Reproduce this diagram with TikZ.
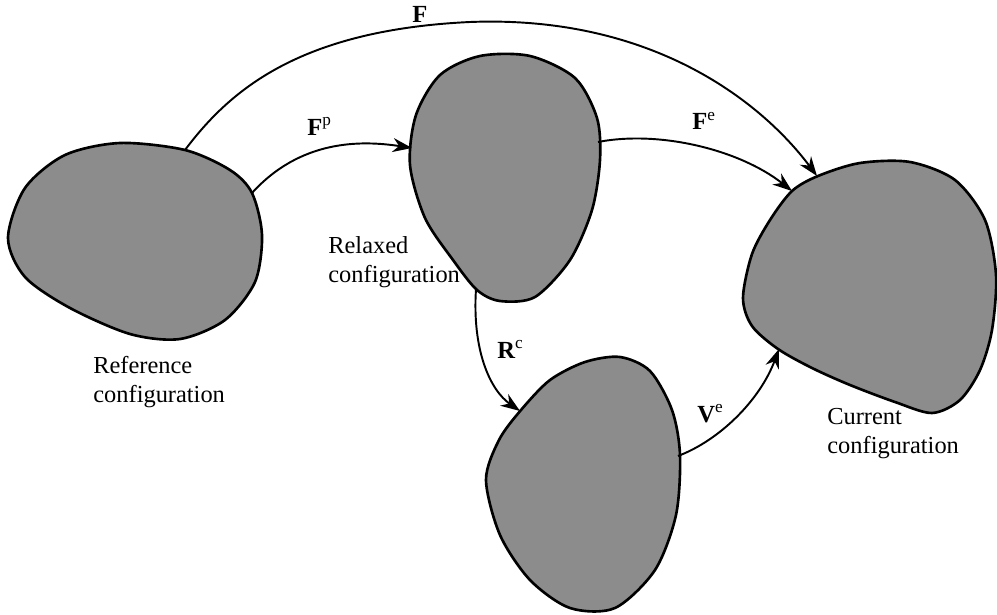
\documentclass[tikz,border=0pt]{standalone}
\usepackage{fontspec}
\setmainfont{Liberation Serif}
\usetikzlibrary{arrows.meta,positioning}
\definecolor{blobgray}{RGB}{140,140,140}

\begin{document}
\begin{tikzpicture}[x=0.02cm, y=-0.02cm,
  blob/.style={draw=black, line width=1.5pt, fill=blobgray},
  conf/.style={inner sep=0pt, align=left, anchor=north west,
               font=\fontsize{13.9}{16.5}\selectfont},
  mlab/.style={inner sep=0pt, anchor=base west,
               font=\fontsize{14}{16}\selectfont\bfseries},
  marr/.style={-{Stealth[length=11pt,width=8pt]}, line width=1.1pt}
]
\useasboundingbox (0,0) rectangle (997,615);

% Bodies
\draw[blob] plot[smooth cycle] coordinates {(8,238) (25,188) (65,155) (120,143) (185,150) (230,170)
  (252,193) (262,235) (255,282) (225,320) (180,339) (130,334) (70,308) (25,277)};
\draw[blob] plot[smooth cycle] coordinates {(410,165) (416,115) (440,75) (480,56) (530,56) (575,78)
  (597,118) (600,160) (592,210) (570,260) (535,297) (500,301) (477,290) (453,260) (425,218)};
\draw[blob] plot[smooth cycle] coordinates {(486,480) (499,440) (521,410) (550,380) (585,362) (620,357)
  (650,371) (672,410) (680,455) (676,515) (655,570) (615,608) (570,608) (530,580) (500,535)};
\draw[blob] plot[smooth cycle] coordinates {(743,298) (752,254) (770,220) (792,191) (818,176) (860,163)
  (910,162) (955,180) (985,220) (996,275) (992,330) (980,370) (960,400) (932,413) (895,402)
  (850,385) (812,368) (778,349) (752,326)};

% Connector ends
\coordinate (refF)  at (185,150);
\coordinate (refP)  at (252,193);
\coordinate (relP)  at (412,148);
\coordinate (relE)  at (598,142);
\coordinate (relR)  at (476,289);
\coordinate (rotR)  at (520,411);
\coordinate (rotV)  at (678,456);
\coordinate (curF)  at (817,176);
\coordinate (curE)  at (792,191);
\coordinate (curV)  at (779,349);
\coordinate (ftop)  at (470,22);

% Labels
\node[conf] (reflab) at (93,356) {Reference\\configuration};
\node[conf] (rellab) at (328,236) {Relaxed\\configuration};
\node[conf] (curlab) at (827,408) {Current\\configuration};

\node[mlab] (lF)  at (412,23)  {F};
\node[mlab] (lFp) at (307,135) {F\textsuperscript{\mdseries p}};
\node[mlab] (lFe) at (692,130) {F\textsuperscript{\mdseries e}};
\node[mlab] (lRc) at (497,358) {R\textsuperscript{\mdseries c}};
\node[mlab] (lVe) at (697,422) {V\textsuperscript{\mdseries e}};

% Arrows
\draw[marr] (refF) .. controls (230,90) and (300,30) .. (ftop)
                   .. controls (650,15) and (760,100) .. (curF);
\draw[marr] (refP) .. controls (300,140) and (360,140) .. (relP);
\draw[marr] (relE) .. controls (660,130) and (740,150) .. (curE);
\draw[marr] (relR) .. controls (472,350) and (490,390) .. (rotR);
\draw[marr] (rotV) .. controls (720,440) and (760,400) .. (curV);
\end{tikzpicture}
\end{document}
